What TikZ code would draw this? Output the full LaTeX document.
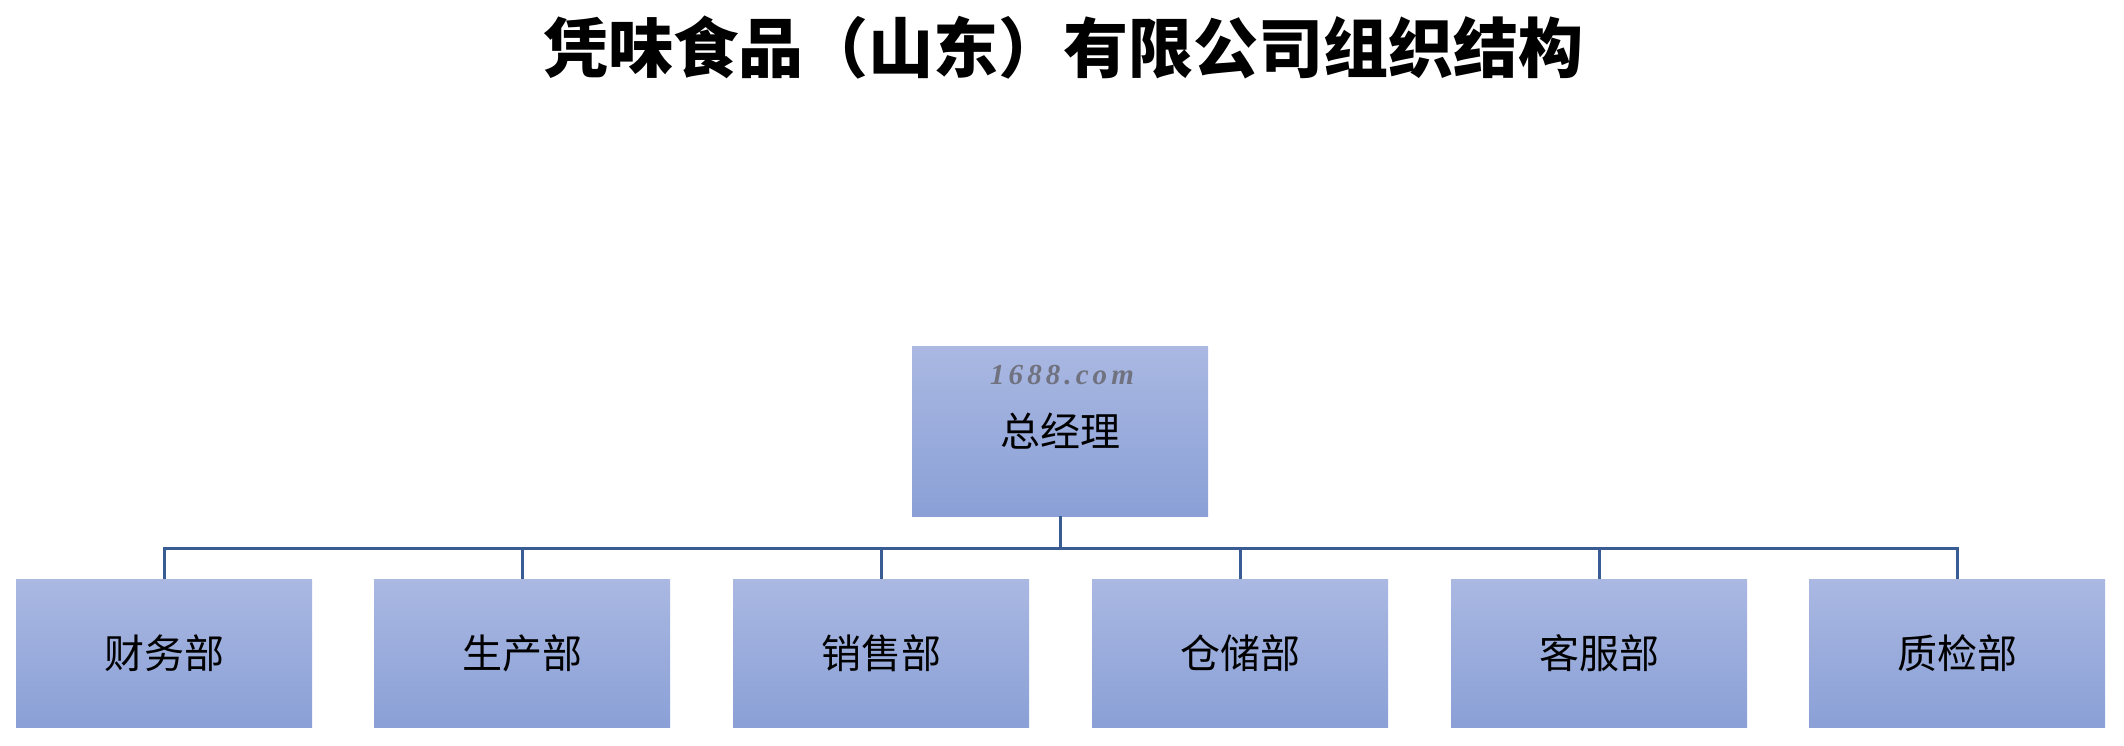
\documentclass[tikz,border=0pt]{standalone}
\usepackage{fontspec}
\newfontfamily\cjk{Noto Sans CJK SC}
\newfontfamily\wmfont[LetterSpace=14]{Liberation Serif}
\definecolor{boxtop}{RGB}{170,184,226}
\definecolor{boxbot}{RGB}{138,160,214}
\definecolor{conncol}{RGB}{58,92,148}
\definecolor{wmcol}{RGB}{112,114,128}
\tikzset{
  orgbox/.style={rectangle, draw=none, top color=boxtop, bottom color=boxbot,
    minimum width=296pt, inner sep=0pt, font=\cjk\fontsize{40}{44}\selectfont},
  conn/.style={draw=conncol, line width=3pt},
}
\begin{document}
\begin{tikzpicture}[x=1pt,y=-1pt]
\useasboundingbox[fill=white] (0,0) rectangle (2124,745);
\node[font=\cjk\bfseries\fontsize{65}{70}\selectfont] (title) at (1063,48) {凭味食品（山东）有限公司组织结构};
\node[orgbox, minimum height=170pt] (gm) at (1060,431) {总经理};
\node[font=\wmfont\bfseries\itshape\fontsize{29}{32}\selectfont, text=wmcol] (wm) at (1062,375) {1688.com};
\node[orgbox, minimum height=148pt] (c1) at (164,653) {财务部};
\node[orgbox, minimum height=148pt] (c2) at (522,653) {生产部};
\node[orgbox, minimum height=148pt] (c3) at (881,653) {销售部};
\node[orgbox, minimum height=148pt] (c4) at (1240,653) {仓储部};
\node[orgbox, minimum height=148pt] (c5) at (1599,653) {客服部};
\node[orgbox, minimum height=148pt] (c6) at (1957,653) {质检部};
\coordinate (bus) at (1060,548);
\draw[conn] (gm.south) -- (bus);
\foreach \c in {c1,c2,c3,c4,c5,c6}{
  \draw[conn] (bus) -| (\c.north);
}
\end{tikzpicture}
\end{document}
